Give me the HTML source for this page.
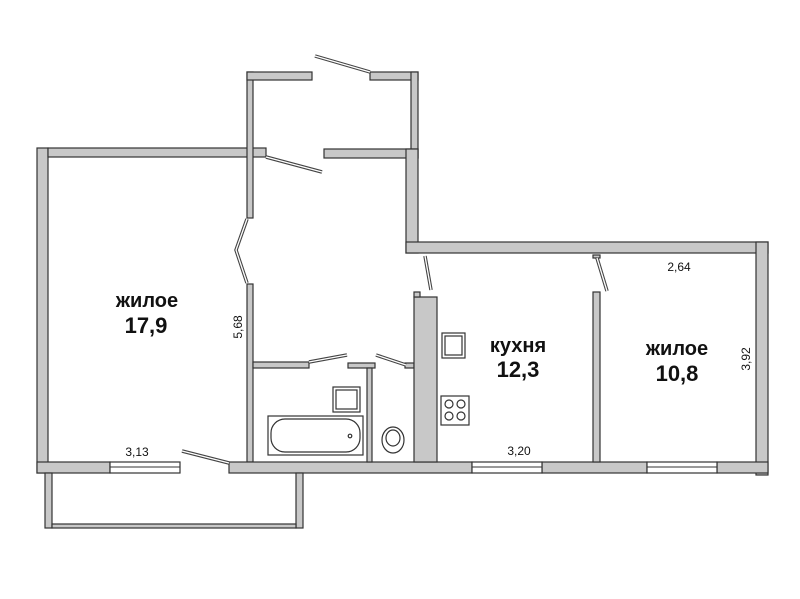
<!DOCTYPE html>
<html><head><meta charset="utf-8"><style>
html,body{margin:0;padding:0;background:#fff;}
svg{display:block;}
text{font-family:"Liberation Sans",sans-serif;fill:#111;}
</style></head><body>
<svg width="800" height="599" viewBox="0 0 800 599" xmlns="http://www.w3.org/2000/svg">
<g fill="#c8c8c8" stroke="#333" stroke-width="1.2">
<rect x="37" y="148" width="11" height="325"/>
<rect x="48" y="148" width="218" height="9"/>
<rect x="247" y="72" width="6" height="146"/>
<rect x="247" y="284" width="6" height="178"/>
<rect x="247" y="72" width="65" height="8"/>
<rect x="370" y="72" width="48" height="8"/>
<rect x="411" y="72" width="7" height="86"/>
<rect x="324" y="149" width="94" height="9"/>
<rect x="406" y="149" width="12" height="104"/>
<rect x="406" y="242" width="362" height="11"/>
<rect x="756" y="242" width="12" height="233"/>
<rect x="37" y="462" width="73" height="11"/>
<rect x="229" y="462" width="243" height="11"/>
<rect x="542" y="462" width="105" height="11"/>
<rect x="717" y="462" width="51" height="11"/>
<rect x="45" y="473" width="7" height="55"/>
<rect x="296" y="473" width="7" height="55"/>
<rect x="52" y="524" width="244" height="4"/>
<rect x="253" y="362" width="56" height="6"/>
<rect x="348" y="363" width="27" height="5"/>
<rect x="367" y="368" width="5" height="94"/>
<rect x="405" y="363" width="9" height="5"/>
<rect x="414" y="297" width="23" height="165"/>
<rect x="414" y="292" width="6" height="5"/>
<rect x="593" y="292" width="7" height="170"/>
<rect x="593" y="255" width="7" height="3"/>
</g>
<g fill="#fff" stroke="#333" stroke-width="1.2">
<rect x="110" y="462" width="70" height="11"/>
<rect x="472" y="462" width="70" height="11"/>
<rect x="647" y="462" width="70" height="11"/>
</g>
<g stroke="#333" stroke-width="1"><line x1="110" y1="467" x2="180" y2="467"/><line x1="472" y1="467" x2="542" y2="467"/><line x1="647" y1="467" x2="717" y2="467"/></g>
<g stroke="#444" stroke-width="3.5" fill="none">
<line x1="315" y1="56" x2="370" y2="72"/>
<line x1="266" y1="157" x2="322" y2="172"/>
<polyline points="247,219 236,250 247,283"/>
<line x1="182" y1="451" x2="229" y2="463"/>
<line x1="309" y1="362" x2="347" y2="355"/>
<line x1="376" y1="355" x2="406" y2="365"/>
<line x1="425" y1="256" x2="431" y2="290"/>
<line x1="597" y1="258" x2="607" y2="291"/>
</g>
<g stroke="#fff" stroke-width="1.3" fill="none">
<line x1="315" y1="56" x2="370" y2="72"/>
<line x1="266" y1="157" x2="322" y2="172"/>
<polyline points="247,219 236,250 247,283"/>
<line x1="182" y1="451" x2="229" y2="463"/>
<line x1="309" y1="362" x2="347" y2="355"/>
<line x1="376" y1="355" x2="406" y2="365"/>
<line x1="425" y1="256" x2="431" y2="290"/>
<line x1="597" y1="258" x2="607" y2="291"/>
</g>
<g stroke="#333" fill="#fff" stroke-width="1.2">
<rect x="268" y="416" width="95" height="39"/>
<rect x="271" y="419" width="89" height="33" rx="14"/>
<rect x="333" y="387" width="27" height="25"/>
<rect x="336" y="390" width="21" height="19"/>
<ellipse cx="393" cy="440" rx="11" ry="13"/>
<ellipse cx="393" cy="438" rx="7" ry="8"/>
<rect x="442" y="333" width="23" height="25"/>
<rect x="445" y="336" width="17" height="19"/>
<rect x="441" y="396" width="28" height="29"/>
<circle cx="449" cy="404" r="4"/><circle cx="461" cy="404" r="4"/>
<circle cx="449" cy="416" r="4"/><circle cx="461" cy="416" r="4"/>
<circle cx="350" cy="436" r="1.8"/>
</g>
<g font-weight="bold" text-anchor="middle">
<text x="147" y="307" font-size="20">жилое</text>
<text x="146" y="333" font-size="22">17,9</text>
<text x="518" y="352" font-size="20">кухня</text>
<text x="518" y="377" font-size="22">12,3</text>
<text x="677" y="355" font-size="20">жилое</text>
<text x="677" y="381" font-size="22">10,8</text>
</g>
<g font-size="12" text-anchor="middle">
<text x="137" y="456">3,13</text>
<text x="519" y="455">3,20</text>
<text x="679" y="271">2,64</text>
<text transform="translate(242,327) rotate(-90)">5,68</text>
<text transform="translate(750,359) rotate(-90)">3,92</text>
</g>
</svg>
</body></html>
